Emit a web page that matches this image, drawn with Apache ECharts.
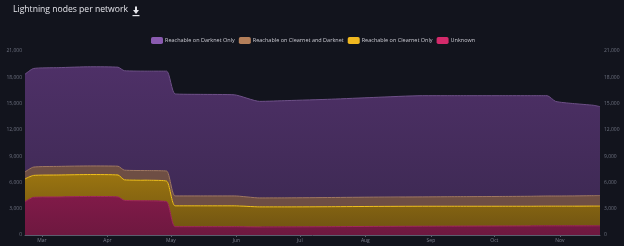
<!DOCTYPE html>
<html>
<head>
<meta charset="utf-8">
<script src="https://cdn.jsdelivr.net/npm/echarts@6/dist/echarts.min.js"></script>
<style>
html,body{margin:0;padding:0;background:#12141d;}
#chart{width:624px;height:246px;}
</style>
</head>
<body>
<div id="chart"></div>
<script>
// Dates (2022) of sampled points
var dates = ['2022-02-21','2022-02-25','2022-03-09','2022-03-24','2022-04-06','2022-04-09','2022-04-21','2022-04-29','2022-05-03','2022-05-15','2022-05-31','2022-06-12','2022-06-25','2022-07-16','2022-08-05','2022-08-28','2022-09-10','2022-09-20','2022-10-05','2022-10-18','2022-10-26','2022-10-30','2022-11-07','2022-11-17','2022-11-20'];
// Band thickness per series (stacked)
var unknown      = [3800,4300,4350,4400,4350,3950,3900,3800, 950, 950, 950, 920, 930, 950, 980,1000,1010,1020,1030,1040,1050,1050,1050,1050,1050];
var clearnetOnly = [2600,2500,2500,2500,2500,2350,2350,2350,2380,2380,2380,2290,2280,2280,2280,2280,2270,2260,2250,2240,2240,2240,2240,2250,2250];
var clearnetDark = [ 800, 950, 980, 980,1000,1100,1100,1150,1130,1130,1130,1020,1030,1050,1060,1070,1090,1100,1120,1140,1160,1160,1170,1190,1200];
var darknetOnly  = [11150,11250,11270,11320,11300,11350,11350,11400,11640,11590,11540,11020,11100,11220,11380,11550,11530,11520,11500,11480,11450,10800,10550,10310,10150];
var legendNames = ['Reachable on Darknet Only','Reachable on Clearnet and Darknet','Reachable on Clearnet Only','Unknown'];
var yTicks = [0,3000,6000,9000,12000,15000,18000,21000];

function pairs(vals){ return dates.map(function(d,i){ return [d, vals[i]]; }); }
var FONT = 'Open Sans';
var chart = echarts.init(document.getElementById('chart'), null, {renderer:'canvas'});

function ser(name, vals, lineColor, iconColor, area, z){
  return {
    name: name, type: 'line', stack: 'total', data: pairs(vals),
    showSymbol: false, symbol: 'none', smooth: 0.2, z: z,
    itemStyle: {color: iconColor},
    lineStyle: {color: lineColor, width: 1},
    areaStyle: {color: area, opacity: 1}
  };
}
var grad = function(a,b){ return new echarts.graphic.LinearGradient(0,0,0,1,[{offset:0,color:a},{offset:1,color:b}]); };

chart.setOption({
  backgroundColor: '#12141d',
  animation: false,
  title: {
    text: 'Lightning nodes per network', left: 13, top: 5, padding: [0,0,0,0],
    textStyle: {color: '#e4e4ea', fontSize: 8.6, fontWeight: 'normal', fontFamily: FONT}
  },
  graphic: [
    {type:'polygon', shape:{points:[[133,10],[139,10],[136,14]]}, style:{fill:'#e4e4ea'}},
    {type:'rect', shape:{x:135,y:6.5,width:2,height:4}, style:{fill:'#e4e4ea'}},
    {type:'rect', shape:{x:132.5,y:15,width:7,height:1.2}, style:{fill:'#e4e4ea'}}
  ],
  legend: {
    data: legendNames, top: 37, left: 151, itemWidth: 12, itemHeight: 7, itemGap: 4, padding: 0,
    icon: 'roundRect',
    textStyle: {color: '#c8c8d0', fontSize: 5.5, fontFamily: FONT, padding: [0,0,0,-3]}
  },
  grid: {left: 25, right: 24, top: 51, bottom: 11, containLabel: false},
  xAxis: {
    type: 'time', min: '2022-02-21', max: '2022-11-20',
    minInterval: 28*86400000, maxInterval: 31*86400000,
    axisLine: {show: true, lineStyle: {color: '#5a5e6e', width: 1}},
    axisTick: {show: true, length: 2, lineStyle: {color: '#5a5e6e'}},
    splitLine: {show: false},
    axisLabel: {color: '#7a7e8c', fontSize: 5, fontFamily: FONT, margin: 3,
      formatter: function(v){ return ['Jan','Feb','Mar','Apr','May','Jun','Jul','Aug','Sep','Oct','Nov','Dec'][new Date(v).getMonth()]; }}
  },
  yAxis: [
    {type: 'value', min: yTicks[0], max: yTicks[yTicks.length-1], interval: 3000, position: 'left',
     axisLine:{show:false}, axisTick:{show:false}, splitLine:{show:false},
     axisLabel:{color:'#6e7280', fontSize:5, fontFamily: FONT, margin:3,
       formatter:function(v){ return v.toLocaleString('en-US'); }}},
    {type: 'value', min: yTicks[0], max: yTicks[yTicks.length-1], interval: 3000, position: 'right',
     axisLine:{show:false}, axisTick:{show:false}, splitLine:{show:false},
     axisLabel:{color:'#6e7280', fontSize:5, fontFamily: FONT, margin:4,
       formatter:function(v){ return v.toLocaleString('en-US'); }}}
  ],
  series: [
    ser(legendNames[3], unknown, '#a3285c', '#d42a6b', grad('#801a48','#6e1840'), 4),
    ser(legendNames[2], clearnetOnly, '#f2c21c', '#f0b820', grad('#9a7410','#735612'), 3),
    ser(legendNames[1], clearnetDark, '#a07862', '#b47f5a', '#6e4e44', 2),
    ser(legendNames[0], darknetOnly, '#6e5088', '#8a5bb0', grad('#4e3067','#3f2a55'), 1)
  ]
});
</script>
</body>
</html>
